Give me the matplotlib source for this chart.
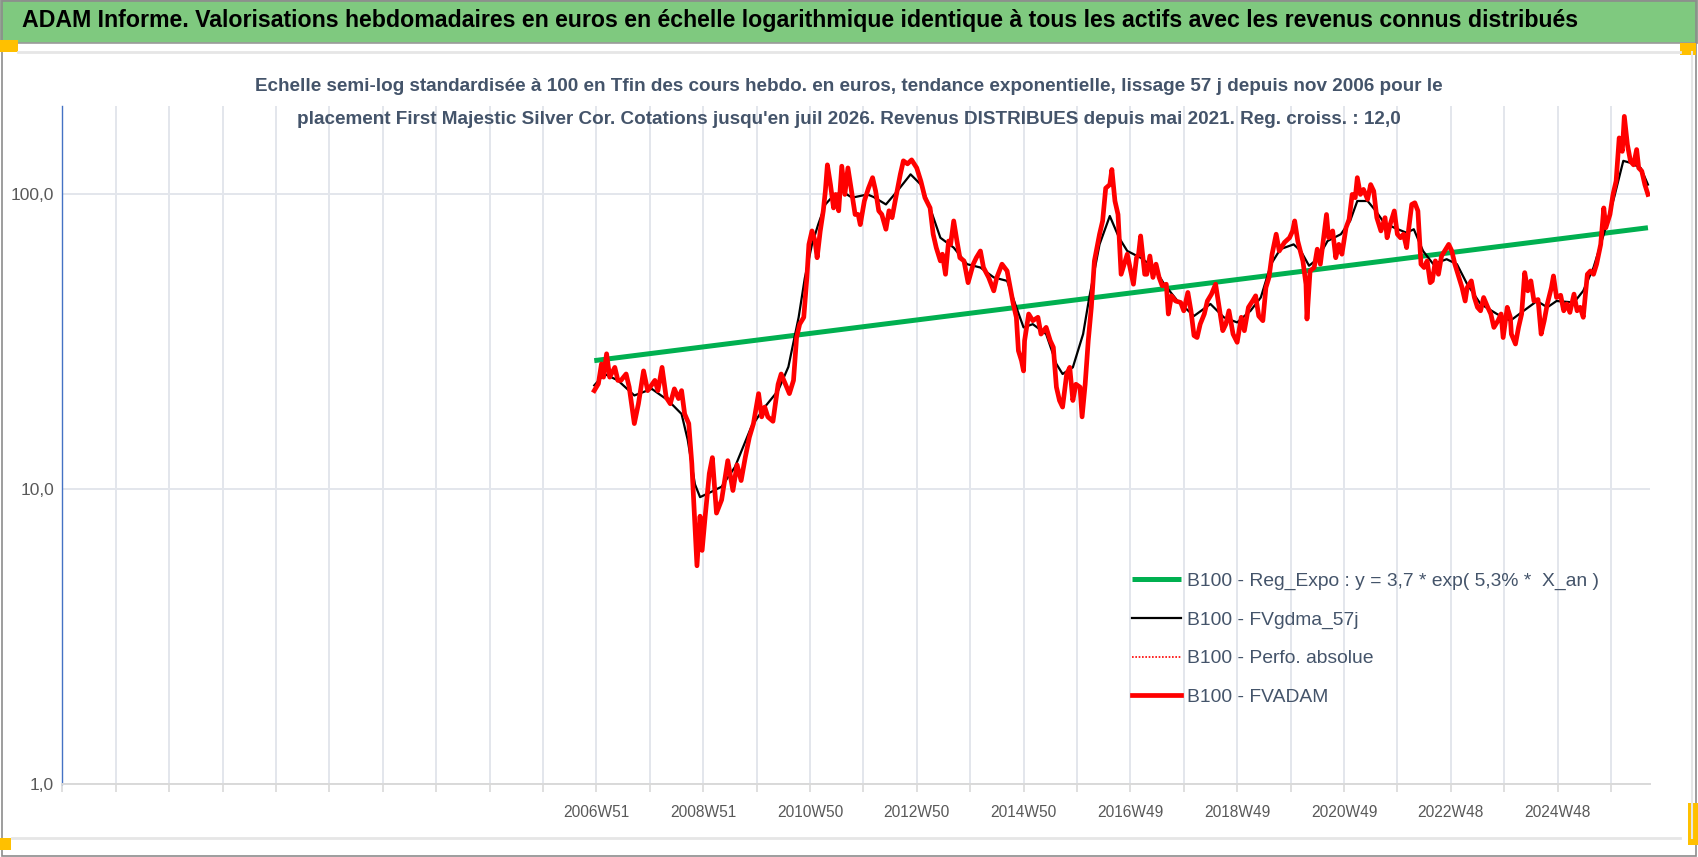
import matplotlib
matplotlib.use("Agg")
import matplotlib.pyplot as plt
from matplotlib.patches import Rectangle
from matplotlib.lines import Line2D

# police proche de Calibri
plt.rcParams['font.family'] = ['Liberation Sans Narrow', 'Liberation Sans', 'DejaVu Sans']

# semaines (index de categorie) et valeurs
red_weeks = [518, 522, 525, 527, 530, 533, 538, 541, 544, 549, 552, 557, 561, 566, 570, 577, 580, 584, 588, 592,
             596, 600, 603, 606, 610, 613, 616, 618, 621, 623, 626, 630, 633, 637, 642, 648, 653, 657, 661, 665,
             669, 673, 678, 681, 684, 687, 692, 697, 700, 704, 708, 712, 715, 718, 722, 725, 727, 730, 733, 735,
             738, 741, 743, 745, 748, 751, 753, 756, 759, 762, 765, 769, 772, 775, 777, 781, 785, 789, 792, 795,
             798, 802, 805, 808, 811, 816, 819, 823, 827, 832, 836, 840, 845, 848, 851, 855, 857, 860, 863, 865,
             868, 871, 874, 878, 882, 887, 890, 894, 897, 902, 907, 910, 915, 920, 923, 926, 929, 931, 934, 936,
             937, 941, 945, 950, 953, 958, 962, 965, 968, 971, 974, 978, 981, 984, 987, 991, 993, 996, 999, 1002,
             1005, 1010, 1013, 1016, 1020, 1022, 1025, 1028, 1031, 1034, 1037, 1043, 1046, 1048, 1050, 1054, 1056, 1059, 1062, 1065,
             1068, 1071, 1075, 1077, 1080, 1084, 1089, 1092, 1096, 1099, 1102, 1105, 1108, 1112, 1115, 1119, 1123, 1126, 1130, 1133,
             1136, 1140, 1144, 1148, 1151, 1155, 1159, 1162, 1165, 1169, 1172, 1175, 1178, 1182, 1185, 1190, 1195, 1198, 1200, 1203,
             1208, 1211, 1212, 1215, 1219, 1222, 1225, 1229, 1231, 1233, 1237, 1240, 1243, 1246, 1250, 1253, 1256, 1259, 1261, 1264,
             1267, 1271, 1274, 1277, 1280, 1284, 1288, 1290, 1293, 1297, 1300, 1303, 1306, 1309, 1311, 1314, 1317, 1320, 1323, 1326,
             1329, 1332, 1334, 1337, 1340, 1343, 1346, 1350, 1353, 1356, 1359, 1363, 1366, 1368, 1372, 1375, 1378, 1381, 1384, 1388,
             1391, 1394, 1398, 1401, 1403, 1407, 1410, 1411, 1415, 1418, 1421, 1424, 1427, 1430, 1433, 1437, 1440, 1443, 1446, 1450,
             1452, 1455, 1459, 1462, 1465, 1468, 1472, 1475, 1478, 1481, 1485, 1488, 1491, 1494, 1498, 1501, 1503, 1507, 1510, 1513,
             1516, 1519, 1521, 1524, 1527, 1530, 1533, 1535, 1538, 1541, 1544]
red_vals = [21.6, 22.8, 26.6, 24.0, 28.8, 24.0, 25.9, 23.4, 23.4, 24.6, 22.2, 16.7, 19.5, 25.2, 21.6, 23.4, 21.6, 25.9, 20.5, 19.5,
            21.9, 20.3, 21.6, 18.0, 16.7, 12.2, 7.5, 5.5, 8.1, 6.2, 8.1, 11.3, 12.8, 8.3, 9.2, 12.5, 9.9, 12.1, 10.7, 12.8,
            15.0, 16.7, 21.1, 17.6, 19.0, 17.6, 17.0, 22.7, 24.6, 22.8, 21.1, 23.4, 32.7, 36.3, 38.3, 52.2, 67.7, 75.2, 69.5, 61.0,
            75.0, 88.0, 102.6, 126.0, 108.0, 90.0, 100.0, 88.0, 124.7, 100.0, 123.0, 100.0, 85.5, 85.5, 79.0, 95.0, 105.0, 114.0, 102.6, 88.0,
            85.5, 76.2, 88.0, 83.4, 95.0, 117.0, 130.0, 127.0, 131.0, 123.0, 111.0, 97.5, 90.0, 73.3, 66.0, 59.5, 62.7, 53.6, 69.5, 67.7,
            81.3, 70.0, 61.0, 59.5, 50.2, 58.0, 61.0, 64.3, 56.5, 52.3, 47.1, 52.3, 58.0, 55.0, 48.3, 42.5, 38.3, 29.5, 27.3, 25.2,
            31.9, 39.3, 37.3, 38.3, 33.6, 35.4, 31.9, 30.3, 22.2, 20.0, 19.0, 24.6, 25.9, 20.0, 22.7, 22.2, 17.6, 22.7, 31.9, 41.4,
            59.5, 73.3, 81.3, 105.0, 108.0, 121.5, 95.0, 85.5, 53.6, 58.0, 62.7, 49.6, 61.0, 62.7, 72.3, 53.6, 53.6, 61.8, 52.3, 58.0,
            52.3, 49.0, 49.6, 39.3, 45.3, 43.5, 43.0, 40.3, 46.5, 40.3, 33.2, 32.7, 36.3, 39.3, 43.5, 45.9, 49.6, 42.5, 34.5, 36.3,
            40.3, 33.6, 31.5, 38.3, 34.5, 41.4, 43.5, 45.3, 38.7, 37.3, 48.3, 52.3, 62.7, 73.3, 64.3, 68.7, 71.3, 75.2, 81.3, 69.5,
            59.5, 49.6, 37.8, 55.0, 56.5, 65.2, 58.0, 75.2, 85.5, 71.3, 75.2, 61.0, 67.7, 62.7, 77.1, 82.3, 100.0, 97.5, 114.0, 100.0,
            104.0, 96.2, 108.0, 102.6, 83.4, 75.2, 83.4, 71.3, 79.2, 87.9, 73.3, 71.3, 73.3, 66.0, 76.2, 92.5, 93.7, 87.9, 58.0, 56.5,
            59.5, 50.2, 50.9, 59.5, 53.6, 61.8, 64.3, 67.7, 64.3, 58.0, 53.6, 48.3, 43.5, 48.3, 50.9, 44.7, 41.4, 40.3, 44.7, 41.4,
            39.3, 35.4, 37.3, 39.3, 32.7, 41.4, 38.3, 33.6, 31.1, 35.4, 39.3, 54.3, 47.1, 50.9, 43.5, 44.0, 33.6, 37.3, 42.5, 48.3,
            52.9, 44.7, 45.5, 40.3, 42.5, 39.8, 45.9, 40.3, 41.4, 38.3, 53.6, 55.0, 53.6, 58.0, 67.7, 90.0, 77.1, 85.5, 100.0, 111.0,
            155.5, 140.0, 184.0, 147.5, 129.6, 126.0, 142.0, 123.0, 120.0, 108.0, 100.0]

black_weeks = [518, 528, 541, 557, 574, 590, 603, 609, 616, 621, 632, 642, 655, 671, 684, 697, 707, 717, 723, 730,
               736, 743, 749, 759, 769, 784, 790, 802, 813, 826, 836, 845, 855, 868, 881, 894, 907, 920, 929, 936,
               945, 958, 968, 974, 984, 994, 1000, 1010, 1020, 1029, 1037, 1050, 1063, 1073, 1086, 1102, 1118, 1131, 1144, 1157,
               1167, 1177, 1186, 1199, 1206, 1214, 1222, 1232, 1245, 1254, 1261, 1271, 1279, 1287, 1297, 1309, 1316, 1325, 1335, 1348,
               1358, 1368, 1381, 1397, 1410, 1423, 1436, 1446, 1455, 1472, 1481, 1491, 1501, 1511, 1520, 1527, 1537, 1544]
black_vals = [22.5, 24.6, 23.4, 20.8, 21.9, 20.0, 18.0, 14.7, 10.4, 9.4, 9.8, 10.2, 11.9, 16.3, 19.0, 21.6, 26.0, 38.3, 52.0, 67.7,
              79.0, 92.5, 97.5, 102.6, 97.5, 100.0, 98.0, 92.5, 102.6, 117.0, 108.0, 90.0, 71.3, 66.0, 58.0, 56.5, 52.3, 50.9, 41.4, 35.4,
              36.3, 33.6, 26.6, 24.6, 25.9, 33.6, 44.7, 67.7, 84.5, 71.3, 64.3, 61.0, 56.5, 49.6, 43.5, 38.7, 42.5, 38.3, 36.8, 40.3,
              44.7, 58.0, 65.2, 67.7, 64.3, 57.3, 60.3, 69.5, 73.3, 81.3, 95.0, 95.0, 87.9, 80.2, 77.1, 74.1, 76.2, 64.3, 58.0, 60.3,
              58.0, 49.6, 42.5, 39.3, 37.3, 40.3, 43.5, 41.4, 43.5, 43.0, 47.1, 56.5, 73.3, 97.5, 130.0, 128.0, 123.0, 108.0]

trend_weeks = [518, 1544]
trend_vals = [27.3, 77.1]

label_weeks = [520, 624, 728, 832, 936, 1040, 1144, 1248, 1352, 1456]
label_text = ["2006W51", "2008W51", "2010W50", "2012W50", "2014W50",
              "2016W49", "2018W49", "2020W49", "2022W48", "2024W48"]
n_weeks = 1546

titre = ("ADAM Informe. Valorisations hebdomadaires en euros en échelle logarithmique identique "
         "à tous les actifs avec les revenus connus distribués")
sous_titre = ("Echelle semi-log standardisée à 100 en Tfin des cours hebdo. en euros, tendance exponentielle, "
              "lissage 57 j depuis nov 2006 pour le\nplacement First Majestic Silver Cor. Cotations jusqu'en juil 2026. "
              "Revenus DISTRIBUES depuis mai 2021. Reg. croiss. : 12,0")

W, H = 1698, 857
fig = plt.figure(figsize=(W / 100, H / 100), dpi=100)

# bandeau vert + cadres
fig.patches.append(Rectangle((0, 1 - 43 / H), 1, 43 / H, transform=fig.transFigure,
                             facecolor='#7FC97F', edgecolor='#9A9A9A', lw=1.2))
fig.patches.append(Rectangle((0.001, 0.001), 0.998, 0.998, transform=fig.transFigure,
                             facecolor='none', edgecolor='#8C8C8C', lw=1.2))
fig.add_artist(Line2D([18 / W, 1680 / W], [1 - 52 / H] * 2, transform=fig.transFigure, color='#E6E6E6', lw=2))
fig.add_artist(Line2D([12 / W, 1680 / W], [1 - 838 / H] * 2, transform=fig.transFigure, color='#E6E6E6', lw=2))
fig.add_artist(Line2D([1692 / W] * 2, [1 - 52 / H, 1 - 838 / H], transform=fig.transFigure, color='#E6E6E6', lw=1.5))
for (x0, y0, w, h) in [(0, 40, 18, 12), (1680, 43, 16, 12), (0, 838, 11, 12), (1688, 803, 10, 42)]:
    fig.patches.append(Rectangle((x0 / W, 1 - (y0 + h) / H), w / W, h / H, transform=fig.transFigure,
                                 facecolor='#FFC000', edgecolor='none'))

fig.text(22 / W, 1 - 21 / H, titre, fontsize=16.7, fontweight='bold', color='black', va='center', ha='left')
fig.text(849 / W, 1 - 103 / H, sous_titre, fontsize=13.6, fontweight='bold', color='#44546A',
         va='center', ha='center', linespacing=2.2)

ax = fig.add_axes([62.3 / W, 1 - 784 / H, (1650 - 62.3) / W, (784 - 105.7) / H])
ax.set_yscale('log')
ax.set_ylim(1, 200)
ax.set_xlim(0, n_weeks)

ax.plot(trend_weeks, trend_vals, color='#00B050', lw=3.6, solid_capstyle='butt',
        label='B100 - Reg_Expo : y = 3,7 * exp( 5,3% *  X_an )', zorder=3)
ax.plot(black_weeks, black_vals, color='black', lw=1.6, label='B100 - FVgdma_57j', zorder=4)
ax.plot([], [], color='red', lw=1.2, ls=(0, (1, 1)), label='B100 - Perfo. absolue')
ax.plot(red_weeks, red_vals, color='#FF0000', lw=3.4, label='B100 - FVADAM', zorder=5)

# axes
ax.set_yticks([1, 10, 100])
ax.set_yticklabels(['1,0', '10,0', '100,0'])
ax.yaxis.set_minor_locator(matplotlib.ticker.NullLocator())
grid_weeks = list(range(0, n_weeks, 52))
ax.set_xticks(grid_weeks)
ax.set_xticklabels([label_text[label_weeks.index(g)] if g in label_weeks else '' for g in grid_weeks])
ax.tick_params(axis='x', length=6, width=1.2, color='#D9D9D9', pad=9, labelsize=11.2, labelcolor='#595959')
ax.tick_params(axis='y', length=0, pad=6, labelsize=12.5, labelcolor='#595959')
ax.grid(True, which='major', color='#E3E6EC', lw=1.4)
ax.set_axisbelow(True)
for s in ['top', 'right']:
    ax.spines[s].set_visible(False)
ax.spines['left'].set_color('#4472C4')
ax.spines['left'].set_linewidth(1.0)
ax.spines['bottom'].set_color('#D9D9D9')
ax.spines['bottom'].set_linewidth(1.4)

leg = ax.legend(loc='upper left', bbox_to_anchor=(1132 / W, 1 - 572 / H), bbox_transform=fig.transFigure,
                frameon=False, fontsize=13.9, handlelength=2.54, handletextpad=0.32, labelspacing=1.1,
                borderpad=0, borderaxespad=0)
for t in leg.get_texts():
    t.set_color('#44546A')

fig.savefig('out.png', dpi=100)
